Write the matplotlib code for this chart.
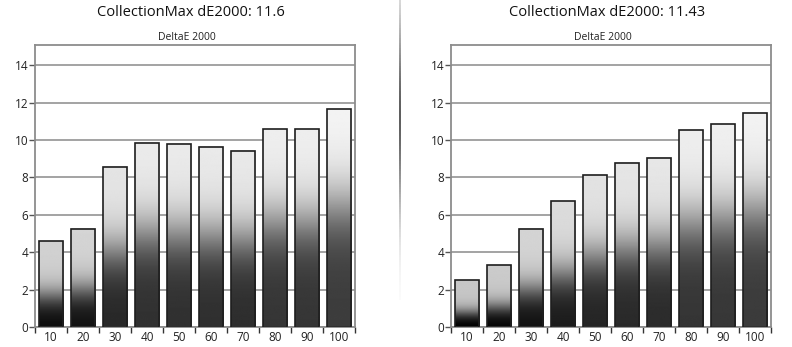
import numpy as np
import matplotlib
matplotlib.use("Agg")
import matplotlib.pyplot as plt
from matplotlib.collections import LineCollection

categories = ["10", "20", "30", "40", "50", "60", "70", "80", "90", "100"]
left_values = [4.6, 5.27, 8.57, 9.86, 9.8, 9.64, 9.43, 10.57, 10.57, 11.64]
right_values = [2.5, 3.3, 5.25, 6.73, 8.12, 8.78, 9.05, 10.54, 10.84, 11.43]
titles = ["CollectionMax dE2000: 11.6", "CollectionMax dE2000: 11.43"]
subtitle = "DeltaE 2000"
yticks = [0, 2, 4, 6, 8, 10, 12, 14]

FONT = ["Open Sans", "DejaVu Sans"]
plt.rcParams["font.family"] = FONT

W, H = 792, 347
fig = plt.figure(figsize=(W / 100, H / 100), dpi=100)
fig.patch.set_facecolor("white")


def gradient_for(h, n=200):
    f = np.linspace(0, 1, n)
    b0 = max(0.0, (h - 2.5) * 0.026)
    b1 = min(0.97, 0.78 + (h - 2.5) * 0.019)
    c = 0.30 + 0.028 * (h - 2.5)
    w = 0.09
    rel = 1 / (1 + np.exp(-(f - c) / w))
    rel = (rel - rel[0]) / (rel[-1] - rel[0])
    return (b0 + (b1 - b0) * rel)[:, None]


def panel(left_px, values, title, sub_x, title_x):
    ax = fig.add_axes([left_px / W, (H - 327) / H, 320 / W, (327 - 45) / H])
    x = np.arange(len(categories))
    bw = 0.78
    for xi, v in zip(x, values):
        g = gradient_for(v)
        ax.imshow(g, extent=[xi - bw / 2, xi + bw / 2, 0, v], origin="lower",
                  aspect="auto", cmap="gray", vmin=0, vmax=1, zorder=2,
                  interpolation="bilinear")
    ax.bar(x, values, width=bw, facecolor="none", edgecolor="#1e1e1e",
           linewidth=1.2, zorder=3)
    ax.set_xlim(-0.5, len(categories) - 0.5)
    ax.set_ylim(0, 15.09)
    ax.set_yticks(yticks)
    ax.set_yticklabels([str(t) for t in yticks], fontsize=8.5, color="#222222")
    ax.yaxis.grid(True, color="#8a8a8a", linewidth=1.1, zorder=1)
    ax.set_axisbelow(True)
    ax.set_xticks(x)
    ax.set_xticklabels(categories, fontsize=8.5, color="#222222")
    ax.set_xticks(np.arange(-0.5, len(categories), 1.0), minor=True)
    ax.tick_params(axis="x", which="major", length=0, pad=3)
    ax.tick_params(axis="x", which="minor", length=4, width=1, color="#333333")
    ax.tick_params(axis="y", length=4, width=1, color="#555555", pad=1)
    for s in ax.spines.values():
        s.set_color("#8c8c8c")
        s.set_linewidth(1.3)
    fig.text(title_x / W, 1 - 13 / H, title, ha="center", va="center",
             fontsize=10.5, color="#111111")
    fig.text(sub_x / W, 1 - 38 / H, subtitle, ha="center", va="center",
             fontsize=7.5, color="#222222")
    return ax


panel(35, left_values, titles[0], 187, 191)
panel(451, right_values, titles[1], 603, 607)

# separator line with fading ends
ys = np.linspace(0, 300, 120)
segs = [[(400 / W, 1 - ys[i] / H), (400 / W, 1 - ys[i + 1] / H)] for i in range(len(ys) - 1)]
mid = (ys[:-1] + ys[1:]) / 2
inten = np.exp(-((mid - 115) / 95) ** 2)
cols = [(0.25, 0.25, 0.25, a) for a in inten]
lc = LineCollection(segs, colors=cols, linewidths=1.2, transform=fig.transFigure)
fig.add_artist(lc)

fig.savefig("out.png", dpi=100)
